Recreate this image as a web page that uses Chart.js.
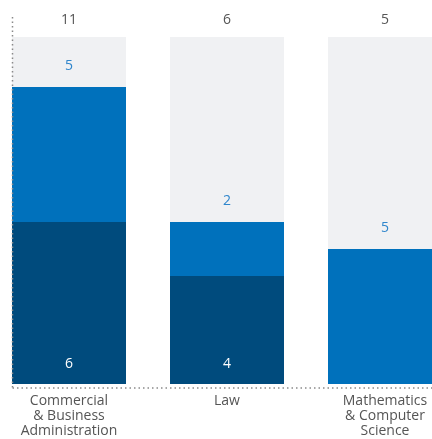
<!DOCTYPE html>
<html>
<head>
<meta charset="utf-8">
<script src="https://cdn.jsdelivr.net/npm/chart.js@4/dist/chart.umd.min.js"></script>
<style>
  html, body { margin: 0; padding: 0; background: #ffffff; overflow: hidden; width: 432px; height: 439px; }
  #wrap { position: absolute; left: -10px; top: 0; width: 474px; height: 439px; }
</style>
</head>
<body>
<div id="wrap"><canvas id="c" width="474" height="439"></canvas></div>
<script>
// ---- data ----
const categories = [
  ["Commercial", "& Business", "Administration"],
  ["Law"],
  ["Mathematics", "& Computer", "Science"]
];
const darkValues = [6, 4, 0];
const mediumValues = [5, 2, 5];
const totals = [11, 6, 5];
const backgroundMax = 12.85;
const backgroundValues = [backgroundMax, backgroundMax, backgroundMax];

const COLOR_DARK = "#004b7d";
const COLOR_MEDIUM = "#0071bc";
const COLOR_BG = "#f0f1f3";
const FONT = "'Open Sans', 'Liberation Sans', sans-serif";

const labelsPlugin = {
  id: "barLabels",
  afterDatasetsDraw(chart) {
    const ctx = chart.ctx;
    const area = chart.chartArea;
    const y = chart.scales.y;
    const darkMeta = chart.getDatasetMeta(1);
    const medMeta = chart.getDatasetMeta(2);
    const base = y.getPixelForValue(0);
    const axisBottom = area.bottom;

    // dotted axis lines
    const firstBar = darkMeta.data[0];
    const leftX = Math.round(firstBar.x - firstBar.width / 2) + 0.5;
    ctx.save();
    ctx.strokeStyle = "#8a8a8a";
    ctx.lineWidth = 1.5;
    ctx.setLineDash([1.5, 3]);
    ctx.beginPath();
    ctx.moveTo(leftX, axisBottom);
    ctx.lineTo(area.right, axisBottom);
    ctx.stroke();
    ctx.beginPath();
    ctx.moveTo(leftX, area.top - 20);
    ctx.lineTo(leftX, axisBottom);
    ctx.stroke();
    ctx.restore();

    ctx.save();
    ctx.font = "14px " + FONT;
    ctx.textAlign = "center";
    ctx.textBaseline = "middle";
    for (let i = 0; i < totals.length; i++) {
      const x = darkMeta.data[i].x;
      ctx.fillStyle = "#555555";
      ctx.fillText(String(totals[i]), x, area.top - 17);
      if (mediumValues[i] > 0) {
        ctx.fillStyle = "#2f86cc";
        ctx.fillText(String(mediumValues[i]), x, medMeta.data[i].y - 21);
      }
      if (darkValues[i] > 0) {
        ctx.fillStyle = "#ffffff";
        ctx.fillText(String(darkValues[i]), x, base - 20);
      }
    }
    ctx.restore();
  }
};

new Chart(document.getElementById("c"), {
  type: "bar",
  data: {
    labels: categories,
    datasets: [
      { label: "bg", data: backgroundValues, backgroundColor: COLOR_BG, stack: "bg", grouped: false, order: 3 },
      { label: "dark", data: darkValues, backgroundColor: COLOR_DARK, stack: "main", grouped: false, order: 1 },
      { label: "medium", data: mediumValues, backgroundColor: COLOR_MEDIUM, stack: "main", grouped: false, order: 1 }
    ]
  },
  options: {
    responsive: false,
    devicePixelRatio: 1,
    animation: false,
    layout: { padding: { top: 37, bottom: 0, left: 0, right: 0 } },
    datasets: { bar: { barPercentage: 1, categoryPercentage: 114 / 158, borderWidth: 0 } },
    plugins: { legend: { display: false }, tooltip: { enabled: false } },
    scales: {
      x: {
        stacked: true,
        offset: true,
        grid: { display: false, drawTicks: false },
        border: { display: false },
        ticks: {
          color: "#555555",
          font: { family: FONT, size: 14, lineHeight: 1.08 },
          padding: 5,
          maxRotation: 0,
          autoSkip: false
        },
        afterFit(scale) { scale.height = 51; }
      },
      y: {
        stacked: true,
        display: false,
        min: -0.148,
        max: backgroundMax
      }
    }
  },
  plugins: [labelsPlugin]
});
</script>
</body>
</html>
